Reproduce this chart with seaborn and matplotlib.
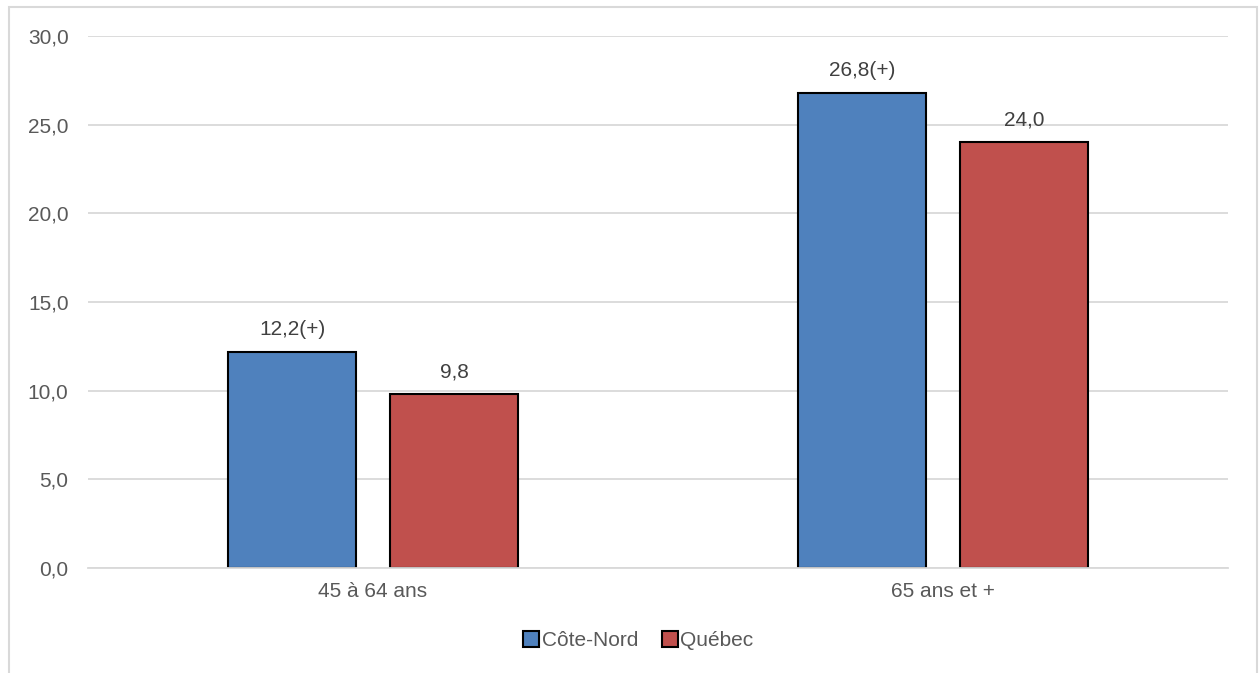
import pandas as pd
import seaborn as sns
import matplotlib.pyplot as plt
from matplotlib.patches import Rectangle
from matplotlib.lines import Line2D

# données
categories = ['45 à 64 ans', '65 ans et +']
regions = ['Côte-Nord', 'Québec']
cote_nord = [12.2, 26.8]
quebec = [9.8, 24.0]
labels_cote_nord = ['12,2(+)', '26,8(+)']
labels_quebec = ['9,8', '24,0']

df = pd.DataFrame({
    'groupe': categories * 2,
    'region': [regions[0]] * 2 + [regions[1]] * 2,
    'valeur': cote_nord + quebec,
})

blue = '#4F81BD'
red = '#C0504D'
gris = '#595959'

sns.set_style('white')
plt.rcParams['font.family'] = ['Liberation Sans', 'DejaVu Sans']

fig = plt.figure(figsize=(12.59, 6.73), dpi=100)
ax = fig.add_axes([0.0699, 0.156, 0.9055, 0.7905])

sns.barplot(data=df, x='groupe', y='valeur', hue='region', order=categories,
            hue_order=regions, palette=[blue, red], width=0.568, gap=0.208,
            edgecolor='black', linewidth=1.5, saturation=1, ax=ax, legend=False)

# étiquettes de données
for cont, labs in zip(ax.containers, [labels_cote_nord, labels_quebec]):
    ax.bar_label(cont, labels=labs, padding=9, fontsize=15, color='#404040')

ax.set_ylim(0, 30)
ax.set_xlim(-0.5, 1.5)
ax.set_yticks(range(0, 31, 5))
ax.set_yticklabels([f'{v},0' for v in range(0, 31, 5)])
ax.yaxis.grid(True, color='#D9D9D9', linewidth=1.3)
ax.set_axisbelow(True)
for s in ['top', 'right', 'left']:
    ax.spines[s].set_visible(False)
ax.spines['bottom'].set_color('#D9D9D9')
ax.spines['bottom'].set_linewidth(1.3)
ax.tick_params(axis='both', length=0, labelsize=15, labelcolor=gris)
ax.tick_params(axis='y', pad=14)
ax.tick_params(axis='x', pad=10)
ax.set_xlabel('')
ax.set_ylabel('')

# légende
handles = [Line2D([], [], marker='s', linestyle='', markersize=11, markerfacecolor=c,
                  markeredgecolor='black', markeredgewidth=1.5) for c in [blue, red]]
fig.legend(handles, regions, loc='center', bbox_to_anchor=(0.506, 0.048), ncol=2,
           frameon=False, fontsize=15, labelcolor=gris, handletextpad=0.0,
           columnspacing=1.0, handlelength=1.0)

# cadre
fig.patches.append(Rectangle((9 / 1259, -0.05), 1248 / 1259, 1.05 - 7 / 673,
                             transform=fig.transFigure, fill=False,
                             edgecolor='#D9D9D9', linewidth=1.5))

fig.savefig('out.png', dpi=100)
